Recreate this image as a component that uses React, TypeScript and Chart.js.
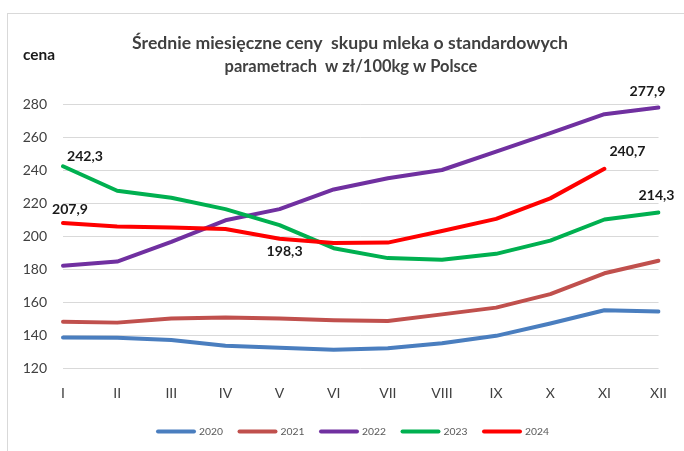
import React, { useEffect, useRef } from "react";
import { Chart, registerables } from "chart.js";

Chart.register(...registerables);

const months = ["I", "II", "III", "IV", "V", "VI", "VII", "VIII", "IX", "X", "XI", "XII"];
const years = ["2020", "2021", "2022", "2023", "2024"];
const values2020 = [138.5, 138.3, 137, 133.5, 132.3, 131, 132, 135, 139.5, 147, 155, 154.3];
const values2021 = [148, 147.5, 150, 150.6, 150, 149, 148.5, 152.5, 156.6, 164.8, 177.4, 185];
const values2022 = [182, 184.5, 196.5, 209.5, 216.3, 228.2, 235, 240, 251.2, 262.3, 273.8, 277.9];
const values2023 = [242.3, 227.4, 223.2, 216.3, 206.6, 192.6, 186.6, 185.6, 189.2, 197.2, 210, 214.3];
const values2024 = [207.9, 205.7, 205.2, 204.2, 198.3, 195.7, 196, 203, 210.4, 222.8, 240.7, null];
const yTicksMin = 120;
const yTicksMax = 280;
const yTicksStep = 20;
const titleLines = ["Średnie miesięczne ceny  skupu mleka o standardowych", "parametrach  w zł/100kg w Polsce"];
const axisTitle = "cena";

const seriesValues = [values2020, values2021, values2022, values2023, values2024];
const colors = ["#4A7EBF", "#C0504D", "#7030A0", "#00B050", "#FF0000"];

// annotated labels: [dataset index, point index, dx, dy]
const labelSpecs: [number, number, number, number][] = [
  [3, 0, 22, -10],
  [4, 0, 7, -14],
  [4, 4, 5, 13],
  [4, 10, 23, -17],
  [3, 11, -2, -17],
  [2, 11, -11, -16],
];

const FAMILY = "Lato, 'Open Sans', sans-serif";

function fitFont(ctx: CanvasRenderingContext2D, text: string, weight: string, target: number, base: number) {
  ctx.font = `${weight} ${base}px ${FAMILY}`;
  const w = ctx.measureText(text).width;
  const size = (base * target) / w;
  return `${weight} ${size.toFixed(2)}px ${FAMILY}`;
}

const fmt = (v: number) => v.toFixed(1).replace(".", ",");

const decorPlugin = {
  id: "decor",
  beforeDraw(chart: any) {
    const ctx = chart.ctx as CanvasRenderingContext2D;
    ctx.save();
    ctx.fillStyle = "#ffffff";
    ctx.fillRect(0, 0, chart.width, chart.height);
    ctx.strokeStyle = "#d9d9d9";
    ctx.lineWidth = 1;
    ctx.strokeRect(7.5, 13.5, 800, 600);
    ctx.restore();
  },
  afterDraw(chart: any) {
    const ctx = chart.ctx as CanvasRenderingContext2D;
    ctx.save();
    // title
    ctx.fillStyle = "#404040";
    ctx.textAlign = "center";
    ctx.textBaseline = "middle";
    ctx.font = fitFont(ctx, titleLines[0], "bold", 436, 16);
    ctx.fillText(titleLines[0], 350, 43);
    ctx.font = fitFont(ctx, titleLines[1], "bold", 253, 16);
    ctx.fillText(titleLines[1], 351, 67);
    // axis title
    ctx.fillStyle = "#1a1a1a";
    ctx.textAlign = "left";
    ctx.font = fitFont(ctx, axisTitle, "bold", 32, 14);
    ctx.fillText(axisTitle, 23, 55);
    // data labels
    ctx.textAlign = "center";
    ctx.fillStyle = "#1a1a1a";
    for (const [di, pi, dx, dy] of labelSpecs) {
      const meta = chart.getDatasetMeta(di);
      const pt = meta.data[pi];
      const v = seriesValues[di][pi] as number;
      const t = fmt(v);
      ctx.font = fitFont(ctx, "242,3", "bold", 36, 14);
      ctx.fillText(t, pt.x + dx, pt.y + dy);
    }
    // legend
    const startX = 157;
    const step = 81.5;
    const ly = 431.5;
    ctx.lineCap = "round";
    ctx.lineWidth = 4;
    ctx.textAlign = "left";
    ctx.font = fitFont(ctx, "2020", "normal", 24, 11);
    for (let i = 0; i < years.length; i++) {
      const x0 = startX + i * step;
      ctx.strokeStyle = colors[i];
      ctx.beginPath();
      ctx.moveTo(x0 + 1, ly);
      ctx.lineTo(x0 + 37, ly);
      ctx.stroke();
      ctx.fillStyle = "#595959";
      ctx.fillText(years[i], x0 + 42, ly);
    }
    ctx.restore();
  },
};

export default function App() {
  const ref = useRef<HTMLCanvasElement | null>(null);
  useEffect(() => {
    if (!ref.current) return;
    const chart = new Chart(ref.current, {
      type: "line",
      data: {
        labels: months,
        datasets: years.map((y, i) => ({
          label: y,
          data: seriesValues[i],
          borderColor: colors[i],
          backgroundColor: colors[i],
          borderWidth: 4,
          pointRadius: 0,
          tension: 0,
          borderJoinStyle: "round" as const,
          borderCapStyle: "round" as const,
          spanGaps: false,
          order: years.length - i,
        })),
      },
      options: {
        animation: false,
        responsive: false,
        maintainAspectRatio: false,
        layout: { padding: { top: 104, right: 24, bottom: 43, left: 0 } },
        plugins: {
          legend: { display: false },
          title: { display: false },
          tooltip: { enabled: false },
        },
        scales: {
          x: {
            offset: false,
            grid: { display: false, drawTicks: false },
            border: { display: false },
            ticks: {
              color: "#404040",
              font: { family: FAMILY, size: 14 },
              padding: 17,
              maxRotation: 0,
              autoSkip: false,
            },
            afterFit: (s: any) => {
              s.height = 40;
            },
          },
          y: {
            min: yTicksMin,
            max: yTicksMax,
            grid: { color: "#d9d9d9", lineWidth: 1, drawTicks: false },
            border: { display: false },
            ticks: {
              stepSize: yTicksStep,
              color: "#404040",
              font: { family: FAMILY, size: 14 },
              padding: 16,
            },
            afterFit: (s: any) => {
              s.width = 63;
            },
          },
        },
      },
      plugins: [decorPlugin],
    });
    return () => chart.destroy();
  }, []);
  return (
    <div style={{ position: "absolute", left: 0, top: 0, width: 684, height: 451, background: "#fff" }}>
      <canvas ref={ref} width={684} height={451} style={{ display: "block" }} />
    </div>
  );
}
